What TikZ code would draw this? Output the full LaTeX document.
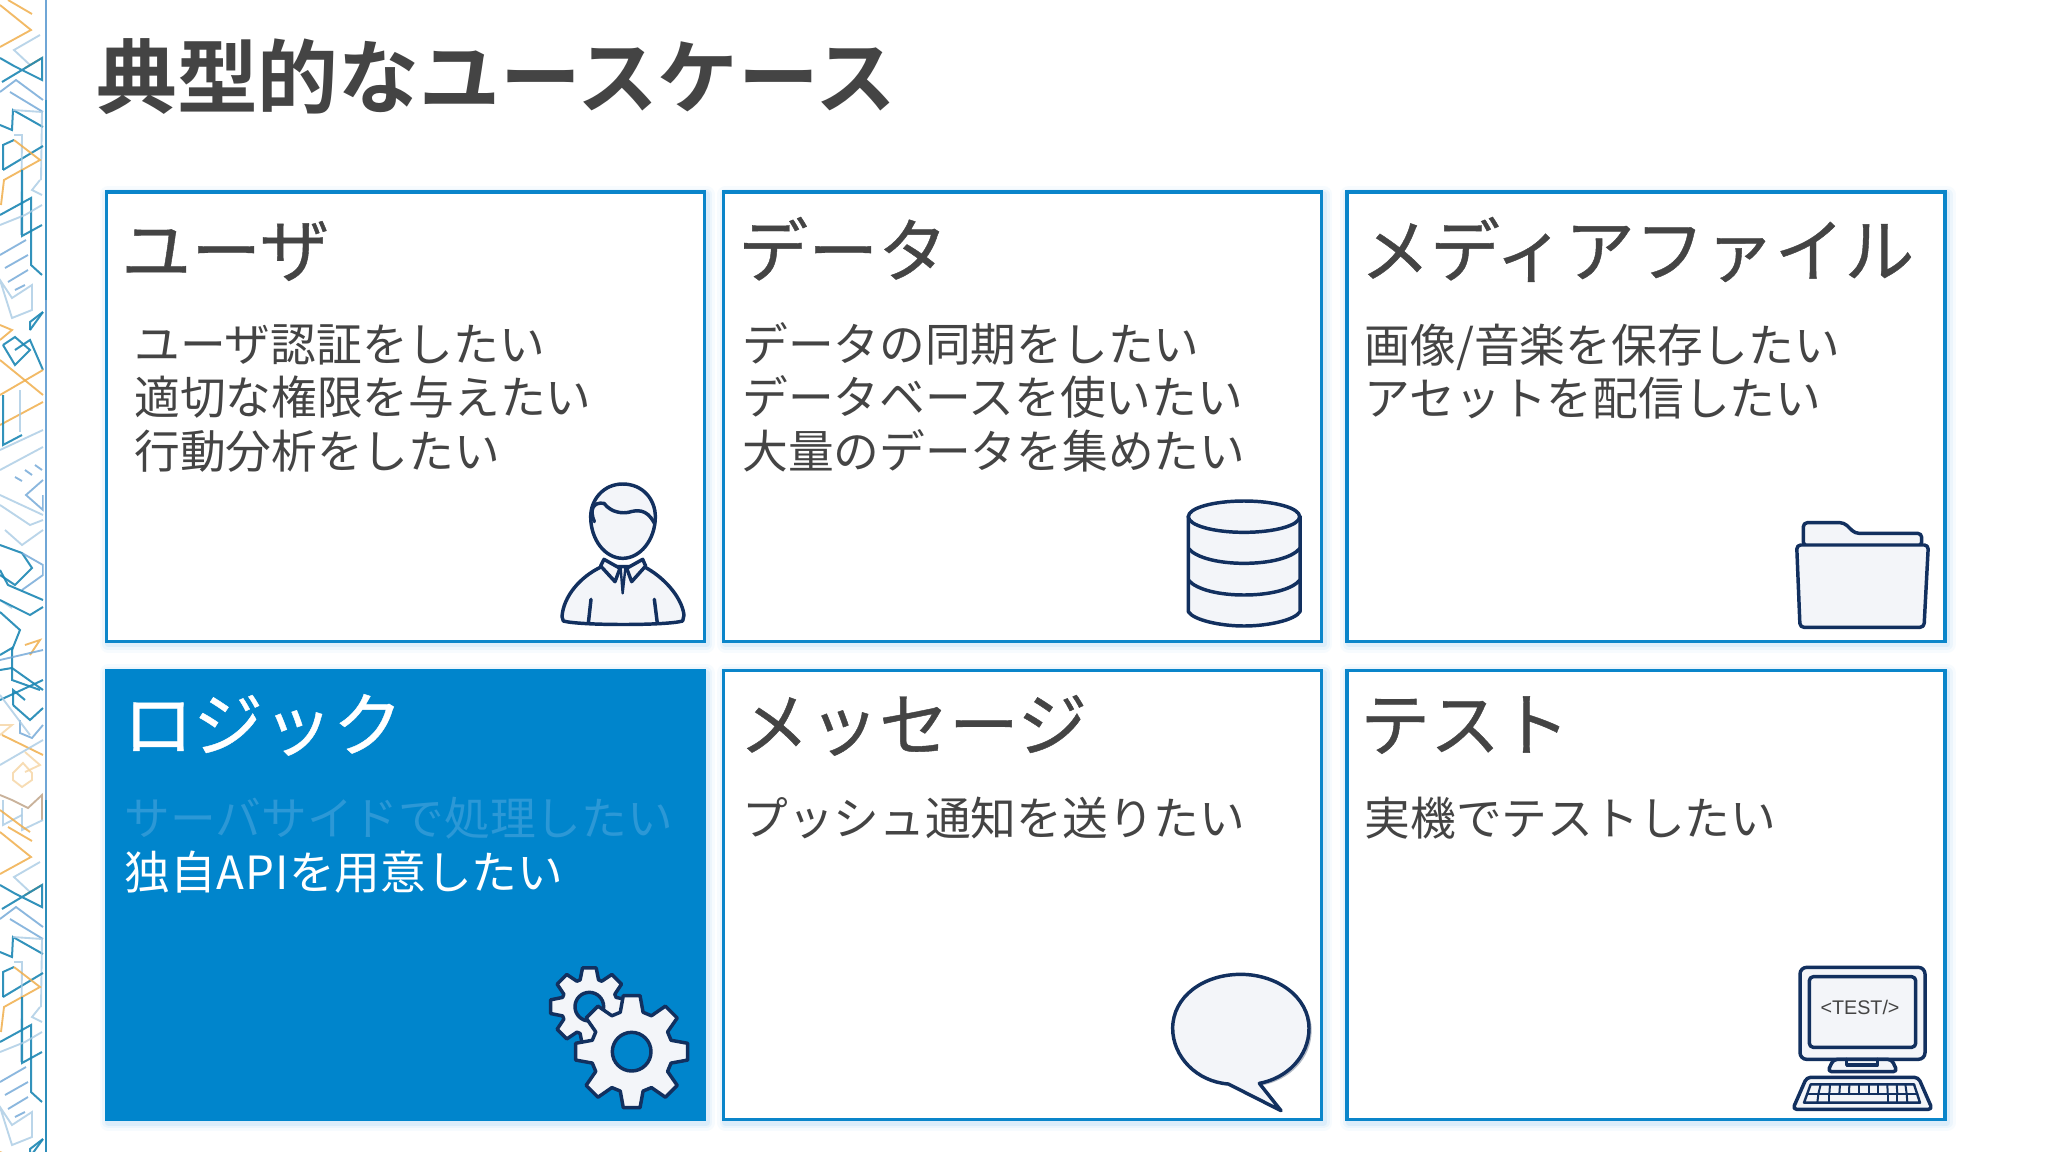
\documentclass[tikz,border=0pt]{standalone}
\usepackage{fontspec}
\setmainfont{Noto Sans CJK JP}[BoldFont={Noto Sans CJK JP Bold}]
\newfontfamily\latinfont{Liberation Sans}
\newfontfamily\headfont{Noto Sans CJK JP}[FakeBold=0.6]
\definecolor{cardblue}{HTML}{0A85CA}
\definecolor{logicblue}{HTML}{0085CC}
\definecolor{inktext}{HTML}{444444}
\definecolor{fadetext}{HTML}{2C98D6}
\definecolor{navy}{HTML}{12305F}
\definecolor{iconfill}{HTML}{F3F5F9}
\definecolor{softshadow}{HTML}{7FC0EE}
\definecolor{stteal}{HTML}{1C87B4}
\definecolor{stblue}{HTML}{6FA6D6}
\definecolor{stlight}{HTML}{A9CBE4}
\definecolor{storange}{HTML}{F0AE4C}
\definecolor{stpale}{HTML}{F6D7A8}
\tikzset{
  x=0.75pt,y=-0.75pt,
  card/.style={rectangle,inner sep=0pt,minimum width=448.5pt,minimum height=337pt,line width=2.4pt,draw=cardblue,fill=white,
    preaction={draw=softshadow,draw opacity=.06,line width=13pt,line join=round,transform canvas={shift={(1.5pt,-2pt)}}},
    preaction={draw=softshadow,draw opacity=.09,line width=9pt,line join=round,transform canvas={shift={(1.5pt,-2pt)}}},
    preaction={draw=softshadow,draw opacity=.14,line width=5pt,line join=round,transform canvas={shift={(1.5pt,-2pt)}}}},
  logiccard/.style={card,draw=logicblue,fill=logicblue},
  cardtitle/.style={anchor=base west,inner sep=0pt,text=inktext,font=\headfont\fontsize{52.4}{60}\selectfont},
  cardbody/.style={anchor=base west,inner sep=0pt,text=inktext,font=\fontsize{34.3}{40}\selectfont},
  icon/.style={draw=navy,fill=iconfill,line width=2.6pt,line join=round,line cap=round},
  iconline/.style={draw=navy,line width=2.6pt,line join=round,line cap=round},
  zoomed/.style={x=0.25pt,y=-0.25pt},
  teal/.style={draw=stteal,line width=1.5pt,draw opacity=.9},
  blu/.style={draw=stblue,line width=1.4pt,draw opacity=.8},
  lig/.style={draw=stlight,line width=1.4pt,draw opacity=.8},
  org/.style={draw=storange,line width=1.4pt,draw opacity=.85},
  pal/.style={draw=stpale,line width=1.4pt,draw opacity=.85},
}
\newcommand{\stripmotif}{%
  \draw[org] (0,5)--(31,30)--(0,47);
  \draw[org] (8,0)--(32,14);
  \draw[lig] (30,65)--(14,50)--(40,35);
  \draw[org] (25,68)--(42,58);
  \draw[teal] (2,82)--(42,58)--(42,80)--(14,66)--(0,58);
  \draw[blu] (0,92)--(16,80)--(43,100);
  \draw[blu] (10,92)--(43,112);
  \draw[teal] (0,125)--(12,130)--(13,110)--(43,127);
  \draw[lig] (13,110)--(42,112)--(41,180);
  \draw[teal] (3,170)--(43,146);
  \draw[teal] (3,170)--(3,145)--(14,140);
  \draw[lig] (14,135)--(22,135)--(21,235);
  \draw[org] (1,205)--(4,180)--(40,160)--(14,140);
  \draw[teal] (0,215)--(31,198)--(31,265)--(42,275);
  \draw[teal] (22,170)--(22,236)--(42,225);
  \draw[lig] (0,225)--(25,215)--(42,205);
  \draw[blu] (0,255)--(26,240);
  \draw[blu] (5,268)--(28,255);
  \draw[blu] (8,282)--(28,270);
  \draw[blu] (15,290)--(25,285);
  \draw[lig] (0,280)--(12,298)--(32,285)--(32,310)--(12,318)--cycle;
  \draw[lig] (40,180)--(32,190)--(42,195);
  \draw[teal] (30,330)--(43,312);
  \draw[teal] (30,330)--(30,322)--(43,312);
  \draw[teal] (3,345)--(15,337)--(30,350)--(15,365)--(3,345);
  \draw[teal] (15,350)--(30,340)--(43,370);
  \draw[org] (0,325)--(12,330)--(0,340);
  \draw[org] (0,395)--(43,370);
  \draw[org] (0,360)--(43,395);
  \draw[org] (0,425)--(43,402);
  \draw[teal] (3,395)--(3,445)--(22,435);
  \draw[lig] (20,390)--(20,432);
  \draw[lig] (0,450)--(43,430);
  \draw[lig] (0,470)--(43,447);
  \draw[blu] (15,477)--(22,481);
  \draw[blu] (25,470)--(32,475);
  \draw[blu] (35,465)--(42,470);
  \draw[blu] (43,480)--(26,495)--(43,510)--(43,495);
  \draw[lig] (0,495)--(43,515);
  \draw[lig] (0,505)--(30,525)--(43,520);
  \draw[lig] (5,530)--(22,545)--(43,530);
  \draw[teal] (0,545)--(22,553)--(32,568)--(15,585)--(0,575);
  \draw[blu] (22,553)--(43,565)--(43,575)--(22,590);
  \draw[teal] (0,570)--(8,585)--(43,600);
  \draw[lig] (0,600)--(12,608);
  \draw[teal] (0,600)--(30,615)--(43,607);
  \draw[teal] (0,612)--(20,630)--(12,650);
  \draw[org] (25,645)--(40,640)--(30,655);
  \draw[teal] (0,655)--(12,648)--(12,680)--(40,690);
  \draw[blu] (0,660)--(43,650);
  \draw[teal] (0,670)--(12,668)--(43,690);
  \draw[teal] (0,700)--(43,680);
  \draw[teal] (13,705)--(30,720)--(43,708);
  \draw[teal] (13,705)--(13,690)--(25,700);
  \draw[blu] (20,720)--(20,733)--(32,738)--(43,725);
  \draw[lig] (0,695)--(30,735);
  \draw[pal] (0,725)--(12,725)--(0,735);
  \draw[org] (2,735)--(43,755);
  \draw[lig] (0,765)--(43,740);
  \draw[pal] (13,773)--(23,763)--(32,773)--(32,780)--(22,787)--(13,780)--cycle;
  \draw[pal] (25,752)--(40,765)--(25,772);
  \draw[draw=brown!60!gray,line width=1.4pt,draw opacity=.6] (0,795)--(12,800)--(28,808)--(42,795)--(42,820);
  \draw[lig] (3,800)--(3,825)--(22,815);
  \draw[lig] (22,808)--(22,830)--(43,820);
  \draw[org] (0,810)--(20,825)--(30,832);
}
\newcommand{\geardraw}[5]{% cx,cy,outer,root,half-angle of a tooth
  \draw[icon] ({#1+#4*sin(-#5*1.9)},{#2-#4*cos(-#5*1.9)})
   \foreach \a in {0,45,...,315} {
    -- ({#1+#3*sin(\a-#5)},{#2-#3*cos(\a-#5)})
    -- ({#1+#3*sin(\a+#5)},{#2-#3*cos(\a+#5)})
    -- ({#1+#4*sin(\a+#5*1.9)},{#2-#4*cos(\a+#5*1.9)})
    -- ({#1+#4*sin(\a+45-#5*1.9)},{#2-#4*cos(\a+45-#5*1.9)})
  } -- cycle;
}
\begin{document}
\begin{tikzpicture}
\useasboundingbox (0,0) rectangle (2048,1152);
\fill[white] (0,0) rectangle (2048,1152);
% decorative strip
\begin{scope}
  \clip (0,0) rectangle (43.5,1152);
  \stripmotif
  \begin{scope}[shift={(0,827)}]\stripmotif\end{scope}
\end{scope}
\draw[draw=stblue,line width=1.5pt] (46,0)--(46,1152);
\draw[draw=stteal,line width=1.5pt,draw opacity=.8] (46,800)--(46,1152);
\draw[draw=stteal,line width=1.5pt,draw opacity=.6] (46,100)--(46,300);
% title
\node[anchor=base west,inner sep=0pt,text=inktext,font=\fontsize{60.6}{70}\selectfont\bfseries] (title) at (96,108) {典型的なユースケース};
% cards
\node[card] (c1) at (405.25,416.75) {};
\node[card] (c2) at (1022.75,416.75) {};
\node[card] (c3) at (1646,416.75) {};
\node[logiccard] (c4) at (405.25,895) {};
\node[card] (c5) at (1022.75,895) {};
\node[card] (c6) at (1646,895) {};
% card text
\node[cardtitle] (t1) at (121,276.5) {ユーザ};
\node[cardbody] (b11) at (134,361) {ユーザ認証をしたい};
\node[cardbody] (b12) at (134,414.5) {適切な権限を与えたい};
\node[cardbody] (b13) at (134,468) {行動分析をしたい};
\node[cardtitle] (t2) at (738,276.5) {データ};
\node[cardbody] (b21) at (742,361) {データの同期をしたい};
\node[cardbody] (b22) at (742,414.5) {データベースを使いたい};
\node[cardbody] (b23) at (742,468) {大量のデータを集めたい};
\node[cardtitle] (t3) at (1360,276.5) {メディアファイル};
\node[cardbody] (b31) at (1364.5,362) {画像/音楽を保存したい};
\node[cardbody] (b32) at (1364.5,415.5) {アセットを配信したい};
\node[cardtitle,text=white] (t4) at (123,750.5) {ロジック};
\node[cardbody,text=fadetext] (b41) at (124.5,835) {サーバサイドで処理したい};
\node[cardbody,text=white] (b42) at (124.5,889) {独自A\kern1pt P\kern1pt Iを用意したい};
\node[cardtitle] (t5) at (739,750.5) {メッセージ};
\node[cardbody] (b51) at (742,835) {プッシュ通知を送りたい};
\node[cardtitle] (t6) at (1360,750.5) {テスト};
\node[cardbody] (b61) at (1364.5,835) {実機でテストしたい};
% person
\begin{scope}[shift={(500,460)},zoomed]
  \draw[icon] (305,320) .. controls (240,350) and (190,410) .. (186,470) -- (190,483) .. controls (240,497) and (500,497) .. (548,483) -- (552,465) .. controls (545,410) and (490,350) .. (432,320) -- cycle;
  \draw[icon] (368,72) .. controls (430,72) and (466,120) .. (466,170) .. controls (466,240) and (420,295) .. (368,295) .. controls (316,295) and (272,240) .. (272,170) .. controls (272,120) and (310,72) .. (368,72) -- cycle;
  \draw[iconline] (283,185) .. controls (268,150) and (278,125) .. (312,130) .. controls (335,160) and (370,160) .. (385,157) .. controls (410,150) and (440,145) .. (462,188);
  \draw[icon] (312,298) -- (302,318) -- (345,365) -- (360,325) -- cycle;
  \draw[icon] (428,298) -- (437,318) -- (395,365) -- (380,325) -- cycle;
  \draw[iconline,line width=1.8pt] (362,325) -- (368,400) -- (376,325);
  \draw[iconline] (273,418) -- (265,490);
  \draw[iconline] (463,418) -- (472,490);
\end{scope}
% database
\begin{scope}[shift={(1170,480)},zoomed]
  \draw[icon] (55,108) -- (55,395) .. controls (70,420) and (150,438) .. (222,438) .. controls (295,438) and (375,420) .. (390,395) -- (390,108) -- cycle;
  \draw[icon] (222,110) ellipse [x radius=167,y radius=47];
  \draw[iconline] (55,205) .. controls (80,235) and (150,250) .. (222,250) .. controls (295,250) and (365,235) .. (390,205);
  \draw[iconline] (55,300) .. controls (80,330) and (150,345) .. (222,345) .. controls (295,345) and (365,330) .. (390,300);
\end{scope}
% folder
\begin{scope}[shift={(1790,510)},zoomed]
  \draw[icon,rounded corners=3pt] (40,108) -- (40,38) -- (162,38) -- (195,70) -- (395,70) -- (395,108) -- cycle;
  \draw[icon,rounded corners=3pt] (20,105) -- (415,105) -- (402,352) -- (30,352) -- cycle;
\end{scope}
% gears
\begin{scope}[shift={(530,960)},zoomed]
  \geardraw{178}{140}{118}{85}{10}
  \draw[icon,fill=logicblue] (178,140) circle [radius=43];
  \geardraw{305}{275}{170}{123}{8.5}
  \draw[icon,fill=logicblue] (305,275) circle [radius=58];
\end{scope}
% speech bubble
\begin{scope}[shift={(1170,960)},zoomed]
  \fill[navy!55!gray,opacity=.4] (276,376) .. controls (358,361) and (425,296) .. (425,211) .. controls (425,116) and (328,49) .. (220,49) -- (212,205) -- cycle;
  \draw[icon] (268,370) .. controls (350,355) and (417,290) .. (417,205) .. controls (417,110) and (320,43) .. (212,43) .. controls (100,43) and (8,110) .. (8,205) .. controls (8,290) and (80,365) .. (175,372) -- (333,452) -- cycle;
\end{scope}
% computer
\begin{scope}[shift={(1790,960)},zoomed]
  \draw[icon,rounded corners=5pt] (30,22) rectangle (405,298);
  \draw[icon,rounded corners=3pt] (58,50) rectangle (377,262);
  \node[inner sep=0pt,text=inktext,font=\latinfont\fontsize{14.8}{16}\selectfont] (testlabel) at (210,143) {<TEST/>};
  \draw[icon,rounded corners=3pt] (130,298) -- (113,335) -- (322,335) -- (305,298) -- cycle;
  \draw[iconline] (170,298) -- (170,315) -- (262,315) -- (262,298);
  \draw[icon,rounded corners=3pt] (50,352) -- (385,352) -- (427,448) -- (8,448) -- cycle;
  \draw[iconline,line width=1.8pt] (62,373) -- (372,373) -- (390,428) -- (42,428) -- cycle;
  \draw[iconline,line width=1.8pt] (52,402) -- (382,402);
  \foreach \kx/\kb in {92/85,120/118,150/148,178/177,207/207,236/236,265/265,292/293,320/322,346/350}
    \draw[iconline,line width=1.5pt] (\kx,373) -- (\kb,402);
  \foreach \kx/\kb in {85/82,118/118,293/293,322/322,350/352}
    \draw[iconline,line width=1.5pt] (\kx,402) -- (\kb,428);
\end{scope}
\end{tikzpicture}
\end{document}
